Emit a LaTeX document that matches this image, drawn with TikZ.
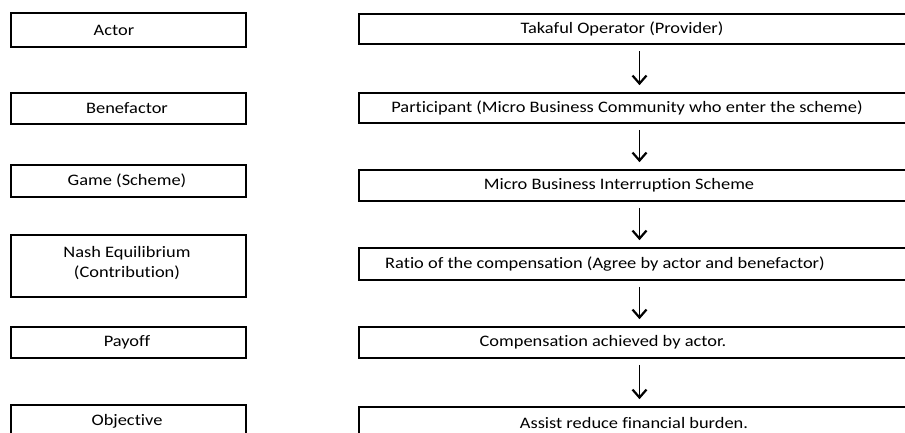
\documentclass[tikz,border=0pt]{standalone}
\usepackage{fontspec}
\setmainfont[FakeStretch=1.15,Ligatures=NoCommon,RawFeature={-liga;-dlig}]{Carlito}
\usetikzlibrary{arrows.meta}
\begin{document}
\begin{tikzpicture}[x=1pt,y=-1pt,
  lbox/.style={draw=black, line width=1.6pt, inner sep=0pt, minimum width=235pt, minimum height=#1},
  rbox/.style={draw=black, line width=1.6pt, inner sep=0pt, minimum width=561pt, minimum height=#1},
  thickbox/.style={line width=2.8pt},
  txt/.style={inner sep=0pt, align=center, font=\fontsize{16}{20}\selectfont},
  arr/.style={line width=1.8pt, -{Straight Barb[length=8pt,width=14pt,line width=2.2pt]}, shorten <=6pt, shorten >=7pt}
]
\useasboundingbox (0,0) rectangle (905,432);
\clip (0,0) rectangle (905,432);
% left column
\node[lbox=34pt, thickbox] (l1) at (128.5,30) {};
\node[lbox=31pt] (l2) at (128.5,108.5) {};
\node[lbox=32pt] (l3) at (128.5,181) {};
\node[lbox=62pt] (l4) at (128.5,266) {};
\node[lbox=31pt] (l5) at (128.5,342.5) {};
\node[lbox=36pt] (l6) at (128.5,423) {};
\node[txt] (lt1) at (114,30) {Actor};
\node[txt] (lt2) at (127,108.5) {Benefactor};
\node[txt] (lt3) at (127,181) {Game (Scheme)};
\node[txt] (lt4) at (127,263) {Nash Equilibrium\\(Contribution)};
\node[txt] (lt5) at (127,342.5) {Payoff};
\node[txt] (lt6) at (127,421.5) {Objective};
% right column
\node[rbox=30pt, thickbox] (r1) at (639.5,29) {};
\node[rbox=30pt] (r2) at (639.5,108) {};
\node[rbox=31pt] (r3) at (639.5,185.5) {};
\node[rbox=32pt] (r4) at (639.5,264) {};
\node[rbox=31pt] (r5) at (639.5,342.5) {};
\node[rbox=36pt] (r6) at (639.5,425) {};
\node[txt] (rt1) at (622,29) {Takaful Operator (Provider)};
\node[txt] (rt2) at (627,108) {Participant (Micro Business Community who enter the scheme)};
\node[txt] (rt3) at (619,185.5) {Micro Business Interruption Scheme};
\node[txt] (rt4) at (605,264) {Ratio of the compensation (Agree by actor and benefactor)};
\node[txt] (rt5) at (603,342.5) {Compensation achieved by actor.};
\node[txt] (rt6) at (634,423) {Assist reduce financial burden.};
% arrows
\draw[arr] (r1) -- (r2);
\draw[arr] (r2) -- (r3);
\draw[arr] (r3) -- (r4);
\draw[arr] (r4) -- (r5);
\draw[arr] (r5) -- (r6);
\end{tikzpicture}
\end{document}
